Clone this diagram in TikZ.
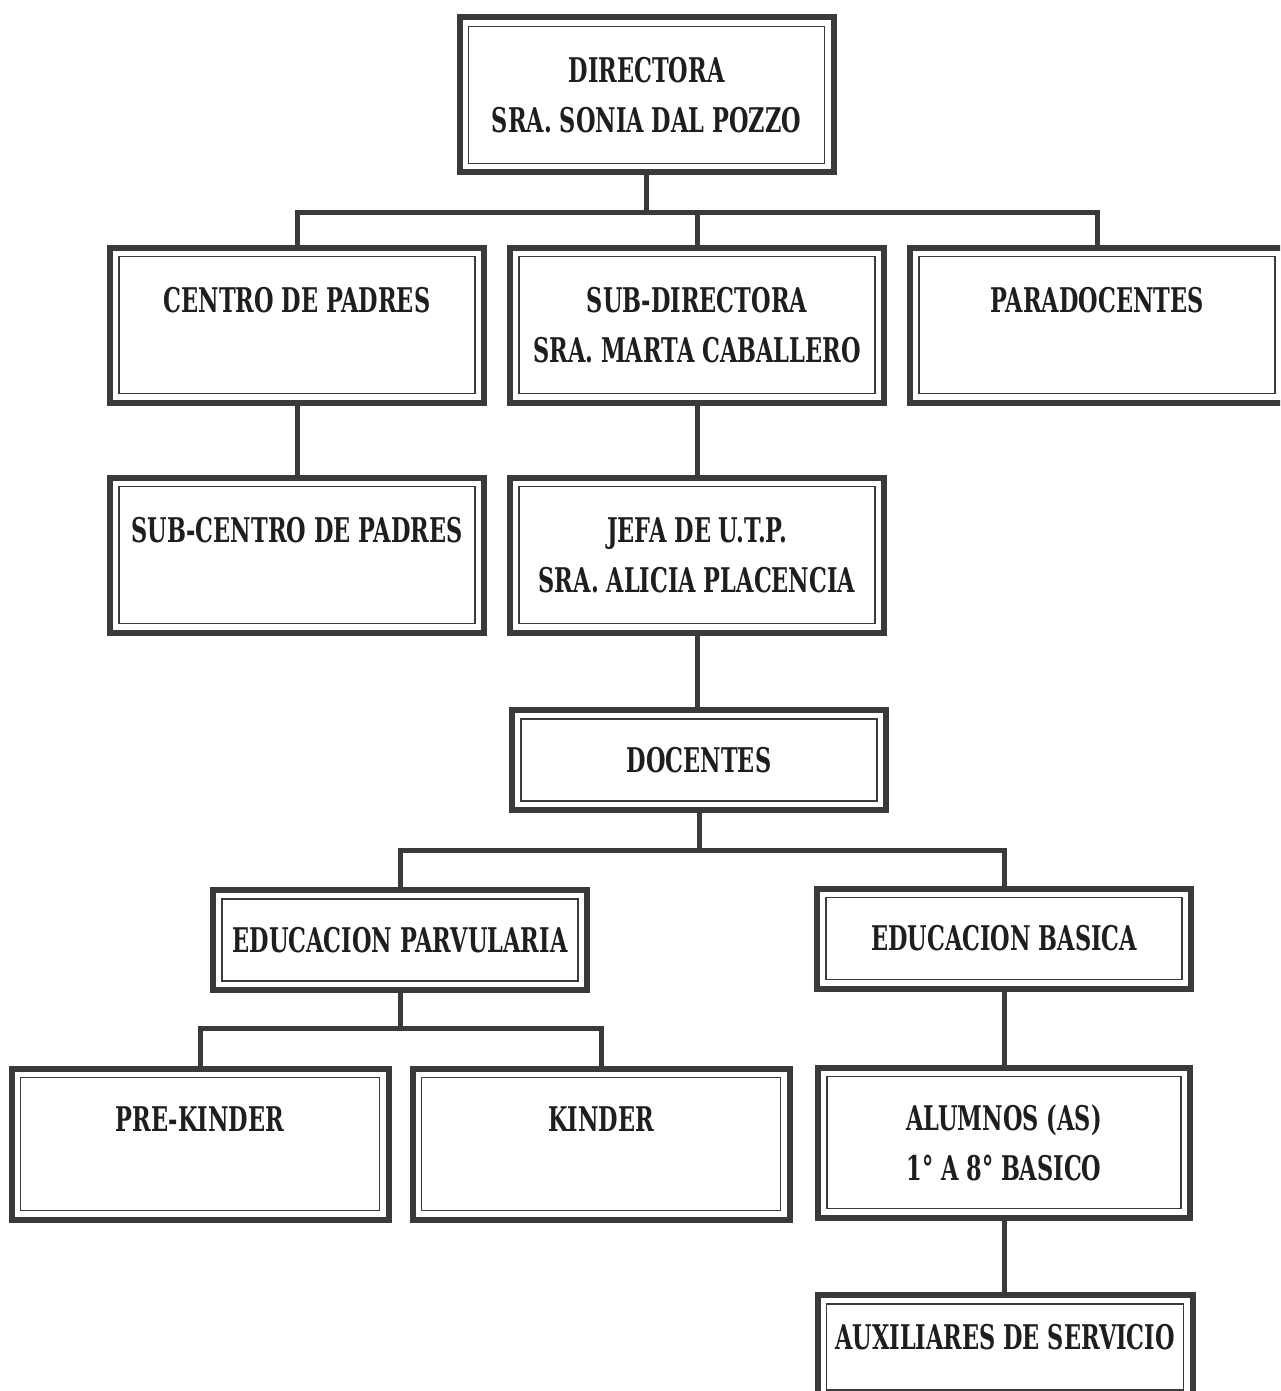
\documentclass[tikz,border=0pt]{standalone}
\usepackage{fontspec}
\setmainfont{DejaVu Serif}[FakeStretch=0.66]
\definecolor{frame}{HTML}{3A3A3A}
\definecolor{ink}{HTML}{1E1E1E}
\tikzset{
  orgbox/.style={draw=frame, line width=6pt, fill=white, align=center,
    text=ink, font=\bfseries\fontsize{34}{50}\selectfont, inner sep=0pt,
    minimum width=#1, line join=miter,
    path picture={\draw[frame, line width=1.6pt]
      ([shift={(9pt,-9pt)}]path picture bounding box.north west) rectangle
      ([shift={(-9pt,9pt)}]path picture bounding box.south east);}},
  orgbox/.default=374pt,
  tall/.style={minimum height=155pt},
  short/.style={minimum height=100pt},
  conn/.style={draw=frame, line width=5pt, line join=miter}
}
\begin{document}
\begin{tikzpicture}[x=1pt,y=-1pt]
\fill[white] (0,0) rectangle (1280,1391);
\clip (0,0) rectangle (1280,1391);
% boxes
\node[orgbox, tall] (dir)  at (646.5,95) {DIRECTORA\\SRA. SONIA DAL POZZO};
\node[orgbox, tall] (cp)   at (297,325)  {CENTRO DE PADRES\\\mbox{}};
\node[orgbox, tall] (sd)   at (697,325)  {SUB-DIRECTORA\\SRA. MARTA CABALLERO};
\node[orgbox, tall] (para) at (1097,325) {PARADOCENTES\\\mbox{}};
\node[orgbox, tall] (scp)  at (297,555)  {SUB-CENTRO DE PADRES\\\mbox{}};
\node[orgbox, tall] (jefa) at (697,555)  {JEFA DE U.T.P.\\SRA. ALICIA PLACENCIA};
\node[orgbox, short] (doc) at (699,760)  {DOCENTES};
\node[orgbox, short] (ep)  at (400,940)  {EDUCACION PARVULARIA};
\node[orgbox, short] (eb)  at (1004,938.5) {EDUCACION BASICA};
\node[orgbox=377pt, minimum height=151pt] (pk) at (200,1144) {PRE-KINDER\\\mbox{}};
\node[orgbox=377pt, minimum height=151pt] (k)  at (601,1144) {KINDER\\\mbox{}};
\node[orgbox=372pt, minimum height=150pt] (al) at (1004,1142.5) {ALUMNOS (AS)\\1° A 8° BASICO};
\node[orgbox=375pt, minimum height=104pt, text depth=20pt] (aux) at (1005,1347) {AUXILIARES DE SERVICIO};
% bus coordinates
\coordinate (b1) at (0,212);
\coordinate (b2) at (0,850);
\coordinate (b3) at (0,1028);
% connectors
\draw[conn] (dir.south) -- (dir.south |- b1);
\draw[conn] (cp.north) -- (cp.north |- b1) -- (para.north |- b1) -- (para.north);
\draw[conn] (sd.north) -- (sd.north |- b1);
\draw[conn] (cp.south) -- (scp.north);
\draw[conn] (sd.south) -- (jefa.north);
\draw[conn] (jefa.south) -- (jefa.south |- doc.north);
\draw[conn] (doc.south) -- (doc.south |- b2);
\draw[conn] (ep.north) -- (ep.north |- b2) -- (eb.north |- b2) -- (eb.north);
\draw[conn] (ep.south) -- (ep.south |- b3);
\draw[conn] (pk.north) -- (pk.north |- b3) -- (k.north |- b3) -- (k.north);
\draw[conn] (eb.south) -- (eb.south |- al.north);
\draw[conn] (al.south) -- (al.south |- aux.north);
\end{tikzpicture}
\end{document}
